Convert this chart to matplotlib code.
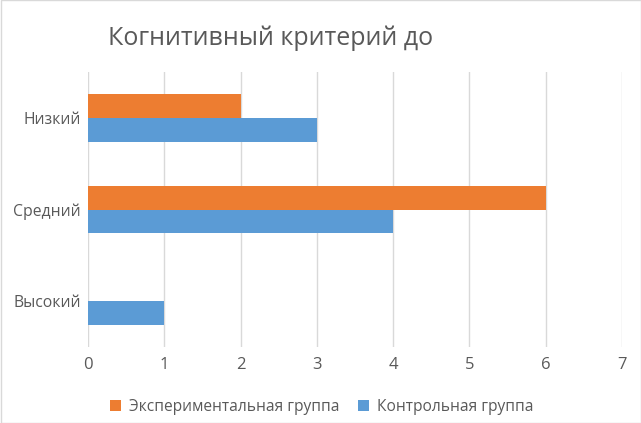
import matplotlib.pyplot as plt
from matplotlib.patches import Rectangle
import numpy as np

# данные диаграммы
categories = ["Высокий", "Средний", "Низкий"]
experimental = [0, 6, 2]
control = [1, 4, 3]
x_ticks = [0, 1, 2, 3, 4, 5, 6, 7]

ORANGE = "#ED7D31"
BLUE = "#5B9BD5"
TEXT = "#595959"
GRID = "#D9D9D9"

plt.rcParams["font.family"] = ["Open Sans", "DejaVu Sans"]

fig = plt.figure(figsize=(6.41, 4.23), dpi=100)
W, H = 641, 423
ax = fig.add_axes([88 / W, 1 - 347 / H, (622 - 88) / W, (347 - 72) / H])

y = np.arange(len(categories))
h = 0.26
ax.barh(y - h / 2, control, height=h, color=BLUE, label="Контрольная группа", zorder=3)
ax.barh(y + h / 2, experimental, height=h, color=ORANGE, label="Экспериментальная группа", zorder=3)

ax.set_xlim(0, 7)
ax.set_ylim(-0.5, 2.5)
ax.set_xticks(x_ticks)
ax.set_yticks(y)
ax.set_yticklabels(categories)
ax.tick_params(axis="both", length=0, colors=TEXT)
ax.tick_params(axis="x", pad=7, labelsize=12)
ax.tick_params(axis="y", pad=5, labelsize=11.3)
ax.grid(axis="x", color=GRID, lw=1, zorder=0)
for s in ax.spines.values():
    s.set_visible(False)

fig.text(108 / W, 1 - 38 / H, "Когнитивный критерий до", fontsize=18, color=TEXT,
         ha="left", va="center")

handles, labels = ax.get_legend_handles_labels()
fig.legend(handles[::-1], labels[::-1], loc="center", bbox_to_anchor=(322 / W, 1 - 407 / H),
           ncol=2, frameon=False, fontsize=11.2, labelcolor=TEXT, handlelength=0.7,
           handleheight=0.7, handletextpad=0.5, columnspacing=1.2)

fig.patches.append(Rectangle((0.5 / W, 0.5 / H), 1 - 1 / W, 1 - 1 / H, transform=fig.transFigure,
                             fill=False, edgecolor=GRID, lw=1))

fig.savefig("out.png", dpi=100)
